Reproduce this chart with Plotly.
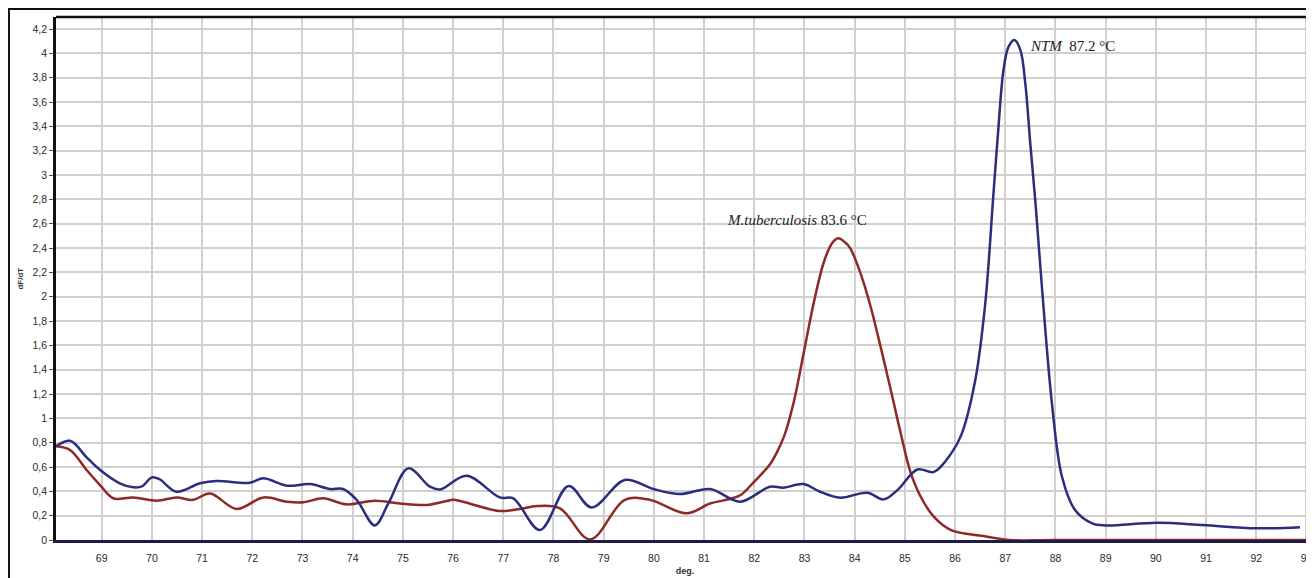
import plotly.graph_objects as go

# NTM (blue) melt curve
ntm_t = [68.09, 68.37, 68.70, 68.97, 69.36, 69.63, 69.80, 70.00, 70.15, 70.49, 70.96, 71.29,
         71.95, 72.22, 72.69, 73.15, 73.55, 73.81, 74.08, 74.44, 74.71, 75.11, 75.54, 75.74,
         76.27, 76.93, 77.20, 77.73, 78.30, 78.76, 79.42, 79.99, 80.52, 81.12, 81.72, 82.31,
         82.58, 82.98, 83.31, 83.71, 84.25, 84.58, 84.85, 85.25, 85.58, 85.92, 86.12, 86.40,
         86.60, 86.76, 86.86, 86.96, 87.06, 87.18, 87.30, 87.40, 87.50, 87.60, 87.73, 87.93,
         88.13, 88.39, 88.73, 89.00, 90.02, 90.94, 92.00, 92.87]
ntm_v = [0.77, 0.816, 0.68, 0.575, 0.466, 0.433, 0.44, 0.515, 0.50, 0.397, 0.466, 0.485,
         0.47, 0.507, 0.446, 0.46, 0.419, 0.419, 0.329, 0.12, 0.30, 0.589, 0.438, 0.416,
         0.529, 0.35, 0.343, 0.082, 0.444, 0.268, 0.493, 0.419, 0.378, 0.419, 0.315, 0.438,
         0.43, 0.46, 0.397, 0.348, 0.389, 0.334, 0.41, 0.58, 0.56, 0.71, 0.86, 1.31,
         1.94, 2.82, 3.37, 3.85, 4.05, 4.11, 4.03, 3.75, 3.25, 2.78, 2.08, 1.12,
         0.52, 0.246, 0.137, 0.12, 0.142, 0.123, 0.096, 0.105]

# M. tuberculosis (red) melt curve
mtb_t = [68.09, 68.37, 68.70, 68.97, 69.23, 69.63, 70.10, 70.49, 70.82, 71.16, 71.69, 72.22,
         72.69, 73.02, 73.41, 73.88, 74.44, 74.94, 75.47, 75.87, 76.00, 76.93, 77.33, 77.67,
         78.13, 78.73, 79.42, 79.92, 80.65, 81.12, 81.51, 81.73, 82.00, 82.31, 82.45, 82.60,
         82.79, 82.99, 83.19, 83.39, 83.55, 83.67, 83.80, 83.91, 84.11, 84.31, 84.51, 84.71,
         84.91, 85.11, 85.31, 85.58, 85.92, 86.56, 87.09, 88.00, 93.00]
mtb_v = [0.77, 0.74, 0.575, 0.45, 0.343, 0.35, 0.323, 0.35, 0.33, 0.383, 0.255, 0.35,
         0.315, 0.31, 0.343, 0.293, 0.323, 0.30, 0.288, 0.32, 0.33, 0.238, 0.255, 0.279,
         0.26, 0.005, 0.33, 0.33, 0.219, 0.30, 0.337, 0.37, 0.48, 0.62, 0.72, 0.86,
         1.14, 1.55, 1.96, 2.29, 2.44, 2.48, 2.45, 2.40, 2.20, 1.93, 1.60, 1.25,
         0.89, 0.56, 0.36, 0.19, 0.082, 0.033, 0.0, 0.0, 0.0]

x_ticks = list(range(69, 94))
y_ticks = [round(i * 0.2, 1) for i in range(0, 22)]
y_tick_text = [("%g" % v).replace(".", ",") for v in y_ticks]

fig = go.Figure()
fig.add_trace(go.Scatter(x=mtb_t, y=mtb_v, mode="lines",
                         line=dict(color="#8e2a24", width=2.5, shape="spline", smoothing=1.0),
                         showlegend=False))
fig.add_trace(go.Scatter(x=ntm_t, y=ntm_v, mode="lines",
                         line=dict(color="#2b2d7e", width=2.5, shape="spline", smoothing=1.0),
                         showlegend=False))

fig.update_layout(
    width=1306, height=570,
    margin=dict(l=48, r=0, t=9, b=38),
    paper_bgcolor="white", plot_bgcolor="white",
    font=dict(family="Liberation Sans", size=10.5, color="#2a2a2a"),
    xaxis=dict(range=[68.09, 93.15], tickvals=x_ticks, ticktext=[str(v) for v in x_ticks],
               showgrid=True, gridcolor="#cfcfcf", gridwidth=1.5,
               showline=True, linecolor="#1c1c4a", linewidth=3,
               ticks="outside", ticklen=6, tickcolor="rgba(0,0,0,0)",
               zeroline=False,
               title=dict(text="<b>deg.</b>", font=dict(size=9, color="#333333"), standoff=6)),
    yaxis=dict(range=[0, 4.3], tickvals=y_ticks, ticktext=y_tick_text,
               showgrid=True, gridcolor="#cfcfcf", gridwidth=1.5,
               showline=True, linecolor="#111111", linewidth=2.5,
               ticks="outside", ticklen=4, tickcolor="#555555",
               zeroline=False),
    annotations=[
        dict(x=81.42, y=2.63, xref="x", yref="y", xanchor="left", yanchor="middle",
             text="<i>M.tuberculosis</i> 83.6 °C", showarrow=False,
             font=dict(family="Liberation Serif", size=15, color="#1a1a1a")),
        dict(x=87.45, y=4.06, xref="x", yref="y", xanchor="left", yanchor="middle",
             text="<i>NTM</i>  87.2 °C", showarrow=False,
             font=dict(family="Liberation Serif", size=15, color="#1a1a1a")),
        dict(x=-0.0286, y=0.5, xref="paper", yref="paper", xanchor="center", yanchor="middle",
             text="<b>dF/dT</b>", textangle=-90, showarrow=False,
             font=dict(family="Liberation Sans", size=8, color="#333333")),
    ],
    shapes=[
        dict(type="rect", xref="paper", yref="paper", x0=-0.0374, y0=-0.2, x1=1.05, y1=1.0153,
             line=dict(color="#111111", width=2)),
        dict(type="line", xref="paper", yref="paper", x0=0, y0=1, x1=1, y1=1,
             line=dict(color="#111111", width=2.5)),
    ],
)

fig.write_html("out.html")
